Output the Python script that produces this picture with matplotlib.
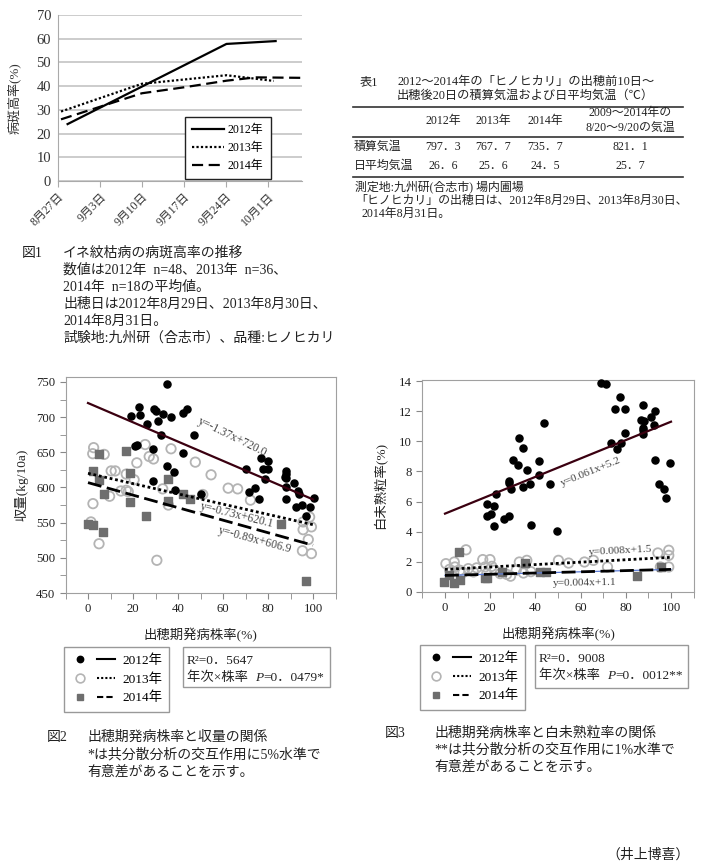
import numpy as np
import matplotlib
matplotlib.use('Agg')
import matplotlib.pyplot as plt
from matplotlib.lines import Line2D
from matplotlib.patches import Rectangle
from matplotlib.legend_handler import HandlerTuple

plt.rcParams['font.family'] = ['Liberation Serif', 'Noto Sans CJK JP']

W, H = 705, 867

# ---- 図1: 病斑高率の推移 (x = 8月27日からの日数)
date_ticks = [0, 7, 14, 21, 28, 35]
date_labels = ['8月27日', '9月3日', '9月10日', '9月17日', '9月24日', '10月1日']
days_2012 = [1.6, 28.1, 36.3]
rate_2012 = [24.0, 57.8, 59.0]
days_2013 = [0.5, 14.0, 28.1, 36.0]
rate_2013 = [29.3, 41.0, 44.6, 42.2]
days_2014 = [0.5, 14.0, 21.0, 28.1, 33.0, 40.7]
rate_2014 = [26.0, 37.0, 39.5, 42.3, 43.7, 43.5]

# ---- 表1
tbl_years = ['2012年', '2013年', '2014年']
tbl_rows = ['積算気温', '日平均気温']
tbl_vals = [[797.3, 767.7, 735.7], [26.6, 25.6, 24.5]]
tbl_norm = [821.1, 25.7]

# ---- 図2: 出穂期発病株率と収量
yld_x_2012 = [35, 19.2, 22.5, 23.3, 29.2, 30.1, 26.3, 30.9, 33.2, 36.8, 42.1, 43.9, 20.8, 21.7,
              32.6, 47, 29.1, 42.1, 35, 38, 29.1, 38.6, 50, 70.2, 71.6, 74.4, 76.2, 76.7, 77.8,
              78.7, 80.2, 80.2, 88, 88, 88, 87.6, 88, 88.2, 91.7, 93.4, 93.6, 92.6, 95.3, 98.5,
              97, 100.3]
yld_y_2012 = [746.7, 701, 715, 703.6, 711, 708, 690, 694, 704, 700, 706, 711, 658.5, 661,
              674.6, 675, 655, 649, 630, 622, 609, 596, 591, 626, 593, 599, 583.6, 642, 626,
              612, 638, 626, 624, 619, 613, 615, 600, 583.6, 607, 595, 590, 572, 575.6, 572,
              560, 585.5]
yld_x_2013 = [2.5, 2.1, 7.2, 25.4, 36.9, 27.2, 29.1, 21.7, 47.7, 10.3, 12.1, 17, 20.5, 54.7,
              14.6, 17, 17.9, 9.6, 33.2, 62.3, 66.5, 51, 72.2, 2.2, 35.7, 1.3, 4.9, 30.6, 98.5,
              95.6, 99.3, 95.6, 97.9, 95.3, 99.3]
yld_y_2013 = [656.6, 648, 647, 661, 655, 644, 640.5, 635, 636, 623.5, 623.5, 619, 611, 618,
              595, 596, 594, 587.5, 598, 599, 598, 590, 582, 577, 575, 551, 520, 496.5, 558,
              551, 544, 540, 526, 510, 506]
yld_x_2014 = [5, 17, 2.4, 18.8, 4.9, 35.7, 7.2, 42.1, 45.3, 35.7, 18.8, -0.1, 2.2, 6.6, 25.8,
              85.7, 96.7]
yld_y_2014 = [648, 651.4, 623.5, 620.6, 611, 612.5, 591, 591, 583.6, 581, 580, 548.6, 546,
              536.7, 560, 548.6, 466.6]
yld_slope = [-1.37, -0.73, -0.89]
yld_icpt = [720.0, 620.1, 606.9]

# ---- 図3: 出穂期発病株率と白未熟粒率
wht_x_2012 = [18.8, 18.5, 20.4, 21.7, 22.5, 21.7, 26.1, 28.4, 28.4, 28.5, 29.1, 30.3, 32.2, 32.8,
              34.4, 34.4, 36.2, 37.7, 38, 41.8, 41.8, 43.6, 46.5, 49.5, 69, 71.2, 77.3, 75.3,
              79.8, 73.6, 76, 77.8, 79.8, 87.6, 86.9, 87.9, 87.6, 87.6, 87.6, 91.1, 93.1, 92.3,
              93.1, 94.8, 96.8, 97.9, 99.7]
wht_y_2012 = [5.86, 5.04, 5.15, 5.7, 6.53, 4.36, 4.87, 5.04, 7.35, 7.2, 6.81, 8.78, 8.4, 10.2,
              9.58, 6.97, 8.08, 7.15, 4.47, 8.7, 7.74, 11.24, 7.15, 4.07, 13.87, 13.78, 12.94,
              12.12, 12.12, 9.9, 9.51, 9.9, 10.58, 12.39, 11.4, 11.35, 10.9, 10.73, 10.5, 11.6,
              12.0, 11.06, 8.78, 7.15, 6.81, 6.26, 8.58]
wht_x_2013 = [0.4, 4.1, 4.4, 9.3, 6.6, 10.3, 12.6, 16.7, 19.9, 17.7, 20.7, 18.5, 24.4, 27.3,
              31.5, 32.9, 36.2, 34.7, 50.2, 54.7, 61.7, 65.7, 71.9, 94.2, 99, 99, 95.3, 99, 2,
              8, 14, 22, 29, 38]
wht_y_2013 = [1.88, 1.99, 1.66, 2.8, 1.44, 1.55, 1.33, 2.15, 2.15, 1.66, 1.7, 1.22, 1.22, 1.17,
              1.44, 1.99, 2.1, 1.26, 2.1, 1.92, 1.99, 2.1, 1.66, 2.59, 2.77, 2.43, 1.66, 1.66,
              1.5, 1.3, 1.6, 1.45, 1.05, 1.35]
wht_x_2014 = [6.2, -0.6, 1.9, 4.2, 6.6, 17.8, 25.1, 35.2, 42, 44.6, 84.8, 95.5, 18.5]
wht_y_2014 = [2.66, 0.64, 1.1, 0.6, 0.81, 0.96, 1.35, 1.91, 1.3, 1.3, 1.03, 1.69, 0.9]
wht_slope = [0.061, 0.008, 0.004]
wht_icpt = [5.2, 1.5, 1.1]

year_labels = ['2012年', '2013年', '2014年']

fig = plt.figure(figsize=(W / 100, H / 100), dpi=100)
renderer = fig.canvas.get_renderer()


def fx(x):
    return x / W


def fy(y):
    return 1 - y / H


def put(x, y, s, size=10, **kw):
    kw.setdefault('va', 'center')
    kw.setdefault('color', '#222')
    return fig.text(fx(x), fy(y), s, fontsize=size, **kw)


def hline(x0, x1, y, lw=1.2):
    fig.add_artist(Line2D([fx(x0), fx(x1)], [fy(y), fy(y)], lw=lw, color='#333'))


def jp_num(v):
    return f'{v:.1f}'.replace('.', '．')


# ================= 図1 =================
ax1 = fig.add_axes([fx(58), fy(181), (302 - 58) / W, (181 - 15) / H])
ax1.plot(days_2012, rate_2012, color='k', lw=1.6, label=year_labels[0])
ax1.plot(days_2013, rate_2013, color='k', lw=1.6, ls=(0, (1, 1)), label=year_labels[1])
ax1.plot(days_2014, rate_2014, color='k', lw=1.6, ls=(0, (5, 2.5)), label=year_labels[2])
ax1.set_xlim(0, 40.7)
ax1.set_ylim(0, 70)
ax1.set_yticks(range(0, 71, 10))
ax1.grid(axis='y', color='#c4c4c4', lw=1.2)
ax1.set_axisbelow(True)
for s in ['top', 'right']:
    ax1.spines[s].set_visible(False)
ax1.spines['left'].set_color('#aaaaaa')
ax1.spines['bottom'].set_color('#aaaaaa')
ax1.set_xticks(date_ticks)
ax1.set_xticklabels(date_labels, rotation=45, ha='right', rotation_mode='anchor')
ax1.tick_params(axis='y', length=0, labelsize=10.5, pad=5, labelcolor='#333')
ax1.tick_params(axis='x', length=4, color='#aaaaaa', labelsize=8.5, pad=3, labelcolor='#333')
ax1.set_ylabel('病斑高率(%)', fontsize=9.4, labelpad=11, color='#333')
leg1 = ax1.legend(loc='upper left', bbox_to_anchor=(fx(185), fy(117)), bbox_transform=fig.transFigure,
                  fancybox=False, edgecolor='#222', framealpha=1, fontsize=8.6, handlelength=2.7,
                  handletextpad=0.3, borderpad=0.6, labelspacing=0.5, borderaxespad=0)
leg1.get_frame().set_linewidth(1.0)

# ================= 表1 =================
put(360, 82, '表1', 8.8)
put(397, 82, '2012～2014年の「ヒノヒカリ」の出穂前10日～', 8.8)
put(397, 96, '出穂後20日の積算気温および日平均気温（℃）', 8.8)
hline(353, 683, 107)
col_x = [443, 493, 545]
for cx, yr in zip(col_x, tbl_years):
    put(cx, 121, yr, 8.6, ha='center')
put(630, 113, '2009～2014年の', 8.6, ha='center')
put(630, 128, '8/20～9/20の気温', 8.6, ha='center')
hline(353, 683, 137)
for ry, name, vals, norm in zip([147, 166], tbl_rows, tbl_vals, tbl_norm):
    put(354, ry, name, 8.6)
    for cx, v in zip(col_x, vals):
        put(cx, ry, jp_num(v), 8.6, ha='center')
    put(630, ry, jp_num(norm), 8.6, ha='center')
hline(353, 683, 177)
put(355, 187, '測定地:九州研(合志市) 場内圃場', 8.6)
put(355, 201, '「ヒノヒカリ」の出穂日は、2012年8月29日、2013年8月30日、', 8.6)
put(362, 214, '2014年8月31日。', 8.6)

# ================= 図1 caption =================
put(22, 253, '図1', 10)
cap1 = ['イネ紋枯病の病斑高率の推移',
        '数値は2012年  n=48、2013年  n=36、',
        '2014年  n=18の平均値。',
        '出穂日は2012年8月29日、2013年8月30日、',
        '2014年8月31日。',
        '試験地:九州研（合志市）、品種:ヒノヒカリ']
for i, line in enumerate(cap1):
    put(63, 253 + 17 * i, line, 10)


# ================= scatter helpers =================
def scatter_panel(ax, pts, slopes, icpts, blue_under=False):
    ax.scatter(pts[1][0], pts[1][1], s=46, facecolors='none', edgecolors='#b4b4b4',
               linewidths=1.3, zorder=2)
    ax.scatter(pts[2][0], pts[2][1], s=26, marker='s', c='#6e6e6e', zorder=3)
    ax.scatter(pts[0][0], pts[0][1], s=26, c='k', zorder=3)
    xf = np.array([0, 100])
    ax.plot(xf, slopes[0] * xf + icpts[0], color='#3a0010', lw=1.6, zorder=4)
    ax.plot(xf, slopes[1] * xf + icpts[1], color='k', lw=2.0, ls=(0, (1, 1)), zorder=4)
    if blue_under:
        ax.plot(xf, slopes[2] * xf + icpts[2], color='#5b7bd5', lw=0.9, zorder=4)
    ax.plot(xf, slopes[2] * xf + icpts[2], color='k', lw=2.0, ls=(0, (5, 2)), zorder=4)
    ax.set_xlim(-10, 110)
    ax.set_xticks(range(0, 101, 20))
    ax.set_xticks(range(-10, 111, 10), minor=True)
    for s in ax.spines.values():
        s.set_color('#a0a0a0')
    ax.tick_params(which='both', direction='out', length=4, color='#888888',
                   labelsize=9.2, labelcolor='#222')
    ax.set_xlabel('出穂期発病株率(%)', fontsize=9.6, labelpad=9, color='#222')


def legend_panel(ax, left, top):
    h = [(Line2D([], [], ls='none', marker='o', ms=4.6, color='k'),
          Line2D([], [], color='k', lw=1.5)),
         (Line2D([], [], ls='none', marker='o', ms=6.3, mfc='none', mec='#b4b4b4', mew=1.2),
          Line2D([], [], color='k', lw=1.5, ls=(0, (1, 1)))),
         (Line2D([], [], ls='none', marker='s', ms=5, color='#6e6e6e'),
          Line2D([], [], color='k', lw=1.5, ls=(0, (3, 1.5))))]
    lg = ax.legend(h, year_labels, handler_map={tuple: HandlerTuple(ndivide=None, pad=0.6)},
                   loc='upper left', bbox_to_anchor=(fx(left), fy(top)), bbox_transform=fig.transFigure,
                   fancybox=False, edgecolor='#999999', framealpha=1, fontsize=9.6,
                   handlelength=3.3, handletextpad=0.5, borderpad=0.55, labelspacing=0.45,
                   borderaxespad=0)
    lg.get_frame().set_linewidth(1.0)


def stats_box(x0, y0, x1, y1, r2, pval):
    fig.add_artist(Rectangle((fx(x0), fy(y1)), fx(x1) - fx(x0), fy(y0) - fy(y1),
                             fill=False, ec='#999999', lw=1.0, transform=fig.transFigure))
    put(x0 + 4, y0 + 17, 'R²=' + r2, 9.6, va='baseline')
    # second line: plain text, italic P, value, chained on one baseline
    x = x0 + 4
    for piece, style in [('年次×株率  ', 'normal'), ('P', 'italic'), ('=' + pval, 'normal')]:
        t = put(x, y0 + 34, piece, 9.6, va='baseline', fontstyle=style)
        x = t.get_window_extent(renderer).x1


# ================= 図2 =================
ax2 = fig.add_axes([fx(65.5), fy(593), 270 / W, 216 / H])
scatter_panel(ax2, [(yld_x_2012, yld_y_2012), (yld_x_2013, yld_y_2013), (yld_x_2014, yld_y_2014)],
              yld_slope, yld_icpt)
ax2.set_ylim(450, 757)
ax2.set_yticks(range(450, 751, 50))
ax2.set_yticks(range(450, 751, 25), minor=True)
ax2.set_ylabel('収量(kg/10a)', fontsize=9.6, labelpad=5, color='#222')
ax2.text(64, 672, 'y=-1.37x+720.0', rotation=-26, ha='center', va='center', fontsize=8.4, color='#444')
ax2.text(66, 560, 'y=-0.73x+620.1', rotation=-14, ha='center', va='center', fontsize=8.4, color='#444')
ax2.text(74.3, 525, 'y=-0.89x+606.9', rotation=-15, ha='center', va='center', fontsize=8.4, color='#444')
legend_panel(ax2, 64, 647)
stats_box(183, 647, 330, 687, '0．5647', '0．0479*')

put(47, 737, '図2', 10)
put(87, 737, '出穂期発病株率と収量の関係', 10)
put(87, 755, '*は共分散分析の交互作用に5%水準で', 10)
put(87, 772, '有意差があることを示す。', 10)

# ================= 図3 =================
ax3 = fig.add_axes([fx(422.4), fy(592), 271.2 / W, 212.5 / H])
scatter_panel(ax3, [(wht_x_2012, wht_y_2012), (wht_x_2013, wht_y_2013), (wht_x_2014, wht_y_2014)],
              wht_slope, wht_icpt, blue_under=True)
ax3.set_ylim(0, 14.1)
ax3.set_yticks(range(0, 15, 2))
ax3.set_ylabel('白未熟粒率(%)', fontsize=9.6, labelpad=9, color='#222')
ax3.text(64.4, 8.0, 'y=0.061x+5.2', rotation=22, ha='center', va='center', fontsize=8.2, color='#444')
ax3.text(77.5, 2.7, 'y=0.008x+1.5', rotation=3, ha='center', va='center', fontsize=8.2, color='#444')
ax3.text(61.7, 0.63, 'y=0.004x+1.1', rotation=1, ha='center', va='center', fontsize=8.2, color='#444')
legend_panel(ax3, 420, 645)
stats_box(535, 645, 688, 688, '0．9008', '0．0012**')

put(385, 733, '図3', 10)
put(434, 733, '出穂期発病株率と白未熟粒率の関係', 10)
put(434, 750, '**は共分散分析の交互作用に1%水準で', 10)
put(434, 767, '有意差があることを示す。', 10)

put(690, 855, '（井上博喜）', 10, ha='right')

fig.savefig('out.png', dpi=100)
